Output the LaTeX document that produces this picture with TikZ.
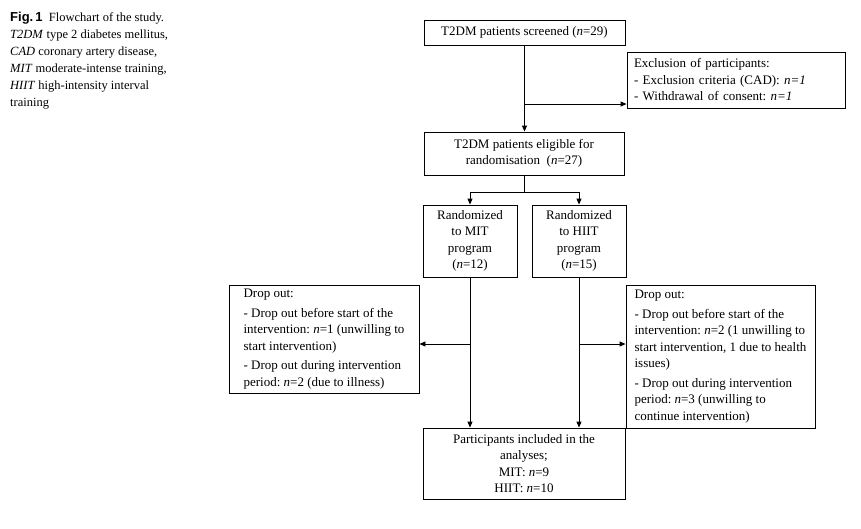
\documentclass[tikz,border=0pt]{standalone}
\usepackage{fontspec}
\setmainfont{Liberation Serif}
\newfontfamily\capsans{Liberation Sans}
\usetikzlibrary{arrows.meta,positioning,calc}
\frenchspacing

\tikzset{
  flowbox/.style={draw,line width=0.9pt,align=center,inner sep=2pt,
    font=\fontsize{13}{16.5}\selectfont},
  notebox/.style={flowbox,align=left,inner xsep=6pt},
  flowline/.style={line width=0.9pt},
  flowarrow/.style={flowline,-{Triangle[length=6pt,width=5pt]}}
}

\begin{document}
\begin{tikzpicture}[x=1pt,y=-1pt]
  \useasboundingbox (0,0) rectangle (861,528);
  % caption
  \node[anchor=north west,align=left,inner sep=0pt,
    font=\fontsize{12.5}{17}\selectfont] (caption) at (10,12)
    {{\capsans\bfseries\fontsize{13}{17}\selectfont Fig.\,1}\ \ Flowchart of the study.\\
     \textit{T2DM} type 2 diabetes mellitus,\\
     \textit{CAD} coronary artery disease,\\
     \textit{MIT} moderate-intense training,\\
     \textit{HIIT} high-intensity interval\\
     training};
  % boxes
  \node[flowbox,minimum width=201pt,minimum height=25pt] (screen) at (524.5,32.5)
    {T2DM patients screened (\textit{n}=29)};
  \node[notebox,minimum width=218pt,minimum height=56pt,text width=204pt] (excl) at (736,80)
    {Exclusion of participants:\\
     - Exclusion criteria (CAD): \textit{n=1}\\
     - Withdrawal of consent: \textit{n=1}};
  \node[flowbox,minimum width=200pt,minimum height=43pt] (elig) at (524,153.5)
    {T2DM patients eligible for\\ randomisation\ \ (\textit{n}=27)};
  \node[flowbox,minimum width=94pt,minimum height=72pt] (mit) at (470,241)
    {Randomized\\ to MIT\\ program\\ (\textit{n}=12)};
  \node[flowbox,minimum width=94pt,minimum height=72pt] (hiit) at (579,241)
    {Randomized\\ to HIIT\\ program\\ (\textit{n}=15)};
  \node[notebox,minimum width=190pt,minimum height=108pt] (dropL) at (324,339)
    {Drop out:\\[3pt]
     - Drop out before start of the\\
     intervention: \textit{n}=1 (unwilling to\\
     start intervention)\\[3pt]
     - Drop out during intervention\\
     period: \textit{n}=2 (due to illness)};
  \node[notebox,minimum width=189pt,minimum height=143pt] (dropR) at (720.5,356.5)
    {Drop out:\\[3pt]
     - Drop out before start of the\\
     intervention: \textit{n}=2 (1 unwilling to\\
     start intervention, 1 due to health\\
     issues)\\[3pt]
     - Drop out during intervention\\
     period: \textit{n}=3 (unwilling to\\
     continue intervention)};
  \node[flowbox,minimum width=202pt,minimum height=71pt] (part) at (524,463.5)
    {Participants included in the\\ analyses;\\ MIT: \textit{n}=9\\ HIIT: \textit{n}=10};
  % connectors
  \coordinate (exclsplit) at (524.5,104);
  \coordinate (randsplit) at (524,192);
  \coordinate (mitsplit) at (470,344);
  \coordinate (hiitsplit) at (579,344);
  \draw[flowarrow] (screen.south) -- (screen.south |- elig.north);
  \draw[flowarrow] (exclsplit) -- (exclsplit -| excl.west);
  \draw[flowline] (elig.south) -- (randsplit);
  \draw[flowarrow] (randsplit) -| (mit.north);
  \draw[flowarrow] (randsplit) -| (hiit.north);
  \draw[flowarrow] (mit.south) -- (mit.south |- part.north);
  \draw[flowarrow] (hiit.south) -- (hiit.south |- part.north);
  \draw[flowarrow] (mitsplit) -- (mitsplit -| dropL.east);
  \draw[flowarrow] (hiitsplit) -- (hiitsplit -| dropR.west);
\end{tikzpicture}
\end{document}
